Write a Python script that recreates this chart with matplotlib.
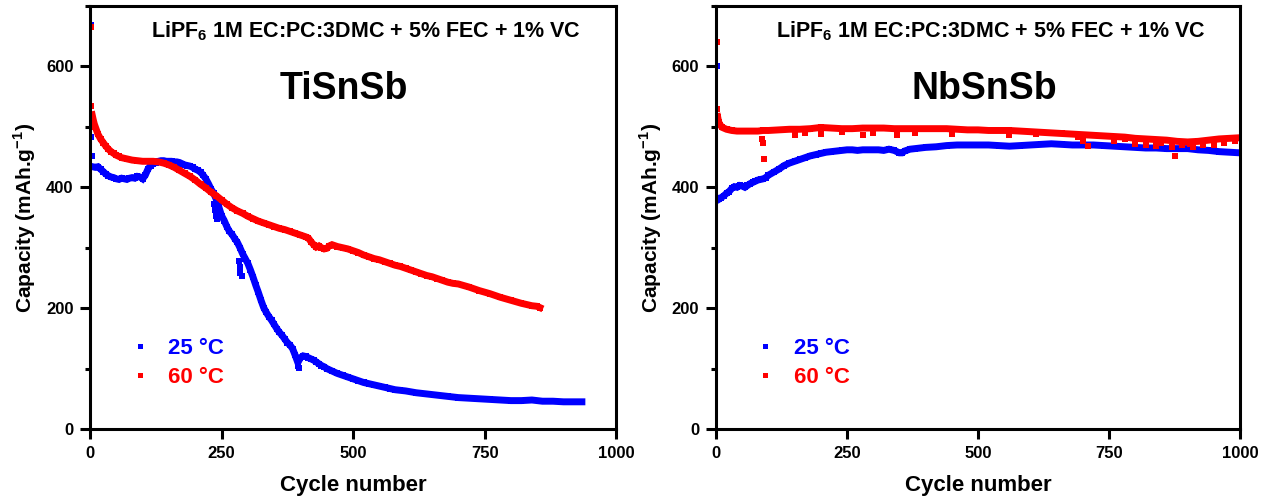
import matplotlib
matplotlib.use("Agg")
import matplotlib.pyplot as plt
from matplotlib.lines import Line2D
from matplotlib.ticker import MultipleLocator

plt.rcParams['font.family'] = ['Liberation Sans', 'DejaVu Sans']
plt.rcParams['font.weight'] = 'bold'

# ---------------- TiSnSb, 25 C ----------------
ti25_first_cyc = [1, 2, 3]
ti25_first_cap = [668, 484, 452]
ti25_cyc = [5, 10, 15, 20, 25, 30, 35, 40, 45, 50, 55, 60, 65, 70, 75, 80, 85, 90, 95, 100,
            105, 110, 115, 120, 125, 130, 135, 140, 145, 150, 155, 160, 165, 170, 175, 180,
            185, 190, 195, 200, 205, 210, 215, 220, 225, 230, 235, 240, 245, 250, 255, 260,
            265, 270, 275, 280, 285, 290, 295, 300, 305, 310, 315, 320, 325, 330, 335, 340,
            345, 350, 355, 360, 365, 370, 375, 380, 385, 390, 395, 400, 405, 410, 415, 420,
            425, 430, 435, 440, 445, 450, 460, 470, 480, 490, 500, 510, 520, 530, 540, 550,
            560, 570, 580, 590, 600, 620, 640, 660, 680, 700, 720, 740, 760, 780, 800, 820,
            840, 860, 880, 900, 920, 935]
ti25_cap = [434, 433, 434, 430, 426, 422, 419, 417, 416, 414, 413, 415, 414, 413, 415, 416,
            415, 418, 417, 414, 420, 430, 436, 439, 441, 443, 444, 444, 443, 443, 443, 442,
            442, 441, 439, 437, 436, 435, 433, 430, 428, 425, 420, 414, 406, 397, 390, 380,
            367, 353, 345, 335, 327, 322, 315, 309, 300, 290, 282, 274, 263, 251, 238, 226,
            213, 201, 193, 186, 180, 173, 166, 160, 155, 149, 143, 139, 133, 122, 110, 118,
            121, 120, 118, 116, 114, 111, 108, 105, 103, 100, 96, 92, 89, 86, 83, 80, 77, 75,
            73, 71, 69, 67, 65, 64, 63, 60, 58, 56, 54, 52, 51, 50, 49, 48, 47, 47, 48, 46,
            46, 45, 45, 45]
ti25_out_cyc = [235, 237, 239, 241, 283, 285, 286, 288, 396, 398]
ti25_out_cap = [372, 362, 352, 348, 278, 268, 258, 254, 104, 101]

# ---------------- TiSnSb, 60 C ----------------
ti60_first_cyc = [1, 2]
ti60_first_cap = [666, 535]
ti60_cyc = [4, 6, 8, 10, 15, 20, 25, 30, 35, 40, 45, 50, 55, 60, 70, 80, 90, 100, 110, 120,
            130, 140, 150, 160, 170, 180, 190, 200, 210, 220, 230, 240, 250, 260, 270, 280,
            290, 300, 310, 320, 330, 340, 350, 360, 370, 380, 390, 400, 410, 415, 420, 425,
            430, 435, 440, 445, 450, 455, 460, 470, 480, 490, 500, 510, 520, 530, 540, 550,
            560, 570, 580, 590, 600, 610, 620, 630, 640, 650, 660, 670, 680, 690, 700, 720,
            740, 760, 780, 800, 820, 840, 850, 855]
ti60_cap = [520, 512, 505, 500, 488, 480, 474, 468, 463, 459, 456, 453, 451, 449, 447, 445,
            444, 443, 443, 443, 442, 440, 437, 433, 428, 423, 418, 412, 405, 399, 392, 386,
            379, 372, 366, 361, 357, 352, 348, 344, 341, 338, 335, 332, 330, 327, 324, 321,
            318, 316, 310, 305, 301, 303, 300, 298, 299, 303, 305, 302, 300, 298, 295, 292,
            288, 285, 282, 280, 277, 274, 271, 269, 266, 263, 260, 257, 254, 252, 249, 246,
            243, 241, 240, 235, 229, 224, 218, 213, 208, 204, 203, 201]

# ---------------- NbSnSb, 25 C ----------------
nb25_first_cyc = [1]
nb25_first_cap = [600]
nb25_cyc = [2, 5, 10, 15, 20, 25, 30, 35, 40, 45, 50, 55, 60, 65, 70, 75, 80, 85, 90, 95,
            100, 110, 120, 130, 140, 150, 160, 170, 180, 190, 200, 210, 220, 230, 240, 250,
            260, 270, 280, 290, 300, 310, 320, 330, 340, 350, 355, 360, 370, 380, 390, 400,
            420, 440, 460, 480, 500, 520, 540, 560, 580, 600, 620, 640, 660, 680, 700, 720,
            740, 760, 780, 800, 820, 840, 860, 880, 900, 920, 940, 960, 980, 1000]
nb25_cap = [382, 380, 383, 386, 390, 393, 398, 401, 400, 403, 402, 400, 403, 406, 408, 410,
            412, 413, 414, 416, 420, 425, 430, 436, 440, 443, 446, 449, 452, 454, 456, 458,
            459, 460, 461, 462, 462, 461, 462, 462, 462, 462, 461, 463, 461, 457, 457, 460,
            463, 464, 465, 466, 467, 469, 470, 470, 470, 470, 469, 468, 469, 470, 471, 472,
            471, 470, 470, 470, 469, 468, 467, 466, 465, 465, 464, 464, 464, 462, 461, 459,
            458, 457]

# ---------------- NbSnSb, 60 C ----------------
nb60_first_cyc = [1, 2]
nb60_first_cap = [640, 529]
nb60_cyc = [3, 5, 8, 12, 20, 30, 40, 50, 60, 70, 80, 90, 100, 120, 140, 160, 180, 200, 220,
            240, 260, 280, 300, 320, 340, 360, 380, 400, 420, 440, 460, 480, 500, 520, 540,
            560, 580, 600, 620, 640, 660, 680, 700, 720, 740, 760, 780, 800, 820, 840, 860,
            880, 900, 920, 940, 960, 980, 1000]
nb60_cap = [517, 508, 503, 499, 496, 494, 493, 493, 493, 493, 493, 494, 494, 495, 496, 496,
            497, 499, 498, 497, 497, 498, 498, 498, 497, 497, 497, 497, 497, 497, 496, 495,
            495, 494, 494, 494, 493, 492, 491, 490, 489, 488, 487, 486, 485, 484, 483, 481,
            480, 479, 478, 476, 475, 476, 478, 480, 481, 482]
nb60_out_cyc = [88, 90, 92, 150, 170, 200, 240, 280, 300, 345, 380, 450, 560, 610, 690, 700,
                710, 760, 780, 800, 820, 840, 850, 870, 876, 890, 905, 910, 930, 950, 970, 990]
nb60_out_cap = [480, 473, 446, 486, 489, 488, 491, 487, 489, 486, 490, 488, 487, 488, 484, 477,
                468, 476, 480, 472, 470, 469, 474, 467, 451, 470, 472, 466, 470, 470, 473, 477]

labels = ["25 °C", "60 °C"]
blue = "#0000ff"
red = "#ff0000"
note = r"LiPF$_\mathregular{6}$ 1M EC:PC:3DMC + 5% FEC + 1% VC"

fig = plt.figure(figsize=(12.7, 5.03), dpi=100)
ax1 = fig.add_axes([0.0709, 0.1471, 0.4142, 0.841])
ax2 = fig.add_axes([0.5638, 0.1471, 0.4126, 0.841])


def trace(ax, cyc, cap, color):
    ax.plot(cyc, cap, color=color, marker='s', ms=5, lw=5, mew=0, solid_joinstyle='miter')


def dots(ax, cyc, cap, color):
    ax.plot(cyc, cap, color=color, marker='s', ms=4.5, ls='none', mew=0)


trace(ax1, ti25_cyc, ti25_cap, blue)
dots(ax1, ti25_first_cyc, ti25_first_cap, blue)
dots(ax1, ti25_out_cyc, ti25_out_cap, blue)
trace(ax1, ti60_cyc, ti60_cap, red)
dots(ax1, ti60_first_cyc, ti60_first_cap, red)

trace(ax2, nb25_cyc, nb25_cap, blue)
dots(ax2, nb25_first_cyc, nb25_first_cap, blue)
trace(ax2, nb60_cyc, nb60_cap, red)
dots(ax2, nb60_first_cyc, nb60_first_cap, red)
dots(ax2, nb60_out_cyc, nb60_out_cap, red)

for ax, name, nx in [(ax1, "TiSnSb", 0.483), (ax2, "NbSnSb", 0.512)]:
    ax.set_xlim(0, 1000)
    ax.set_ylim(0, 700)
    ax.xaxis.set_major_locator(MultipleLocator(250))
    ax.yaxis.set_major_locator(MultipleLocator(200))
    ax.yaxis.set_minor_locator(MultipleLocator(100))
    for s in ax.spines.values():
        s.set_linewidth(2.2)
    ax.tick_params(which='major', direction='out', length=7, width=2.2, labelsize=12, pad=5)
    ax.tick_params(which='minor', direction='out', length=3.5, width=2.2)
    for lab in ax.get_xticklabels() + ax.get_yticklabels():
        lab.set_fontweight('bold')
    ax.set_xlabel("Cycle number", fontsize=16, fontweight='bold', labelpad=10)
    ax.set_ylabel(r"Capacity (mAh.g$^\mathregular{-1}$)", fontsize=15, fontweight='bold', labelpad=6)
    ax.text(0.524, 0.941, note, transform=ax.transAxes, ha='center', va='center',
            fontsize=15.5, fontweight='bold')
    ax.text(nx, 0.804, name, transform=ax.transAxes, ha='center', va='center',
            fontsize=27, fontweight='bold')
    handles = [Line2D([], [], ls='none', marker='s', ms=3.6, mew=0, color=blue),
               Line2D([], [], ls='none', marker='s', ms=3.6, mew=0, color=red)]
    ax.legend(handles, labels, loc='upper left', bbox_to_anchor=(0.035, 0.262),
              frameon=False, handlelength=1.0, handletextpad=0.8,
              labelspacing=0.35, labelcolor=[blue, red],
              prop={'weight': 'bold', 'size': 16})

fig.savefig("out.png", dpi=100)
